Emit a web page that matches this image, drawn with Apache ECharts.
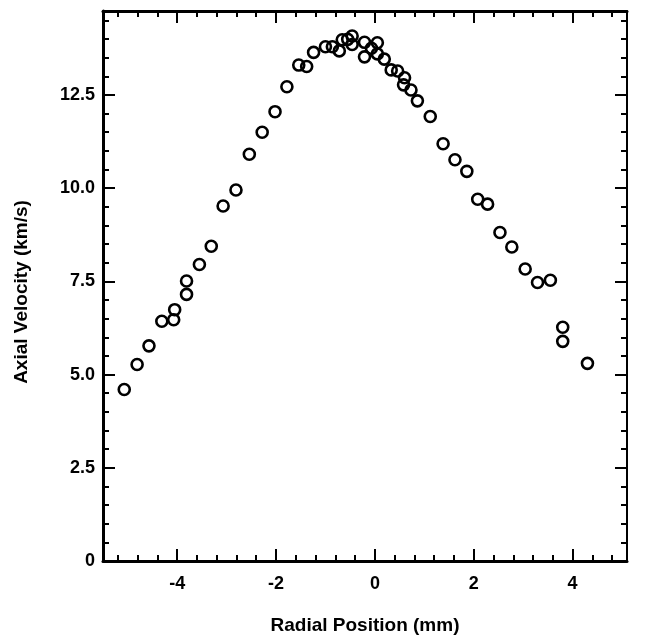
<!DOCTYPE html>
<html>
<head>
<meta charset="utf-8">
<script src="https://cdn.jsdelivr.net/npm/echarts@6/dist/echarts.min.js"></script>
<style>
html,body{margin:0;padding:0;background:#fff;}
#chart{width:650px;height:640px;}
</style>
</head>
<body>
<div id="chart"></div>
<script>
// Radial position (mm)
const radialPosition = [-5.07,-4.81,-4.57,-4.31,-4.07,-4.05,-3.81,-3.81,-3.55,-3.31,-3.07,-2.81,-2.54,-2.28,-2.02,-1.78,-1.54,-1.38,-1.24,-1.00,-0.86,-0.72,-0.66,-0.55,-0.46,-0.46,-0.21,-0.21,-0.07,0.05,0.05,0.19,0.33,0.46,0.60,0.58,0.73,0.86,1.12,1.38,1.62,1.86,2.08,2.28,2.53,2.77,3.04,3.29,3.55,3.80,3.80,4.30];
// Axial velocity (km/s)
const axialVelocity = [4.60,5.27,5.77,6.43,6.47,6.74,7.15,7.51,7.95,8.44,9.52,9.95,10.91,11.50,12.05,12.72,13.30,13.26,13.64,13.79,13.79,13.68,13.98,13.99,14.08,13.85,13.91,13.52,13.75,13.90,13.60,13.46,13.17,13.14,12.96,12.77,12.63,12.34,11.92,11.19,10.76,10.45,9.70,9.57,8.81,8.42,7.83,7.47,7.53,6.27,5.89,5.30];

const xMajorTicks = [-4,-2,0,2,4];
const xMinorTicks = [-5.2,-4.8,-4.4,-3.6,-3.2,-2.8,-2.4,-1.6,-1.2,-0.8,-0.4,0.4,0.8,1.2,1.6,2.4,2.8,3.2,3.6,4.4,4.8];
const yMajorTicks = [0,2.5,5,7.5,10,12.5];
const yMinorTicks = [0.5,1,1.5,2,3,3.5,4,4.5,5.5,6,6.5,7,8,8.5,9,9.5,10.5,11,11.5,12,13,13.5,14,14.5];

const X_MIN = -5.5, X_MAX = 5.1, Y_MIN = 0, Y_MAX = 14.75;
const FONT = '"Liberation Sans", Arial, Helvetica, sans-serif';

const points = radialPosition.map((x, i) => [x, axialVelocity[i]]);

function xAxisDef(position, ticks, len, showLine, showLabel, lineWidth) {
  return {
    type: 'value', position: position, min: X_MIN, max: X_MAX,
    splitLine: {show: false},
    axisLine: {show: showLine, onZero: false, lineStyle: {color: '#000', width: lineWidth}},
    axisTick: {show: true, inside: true, length: len, customValues: ticks, lineStyle: {color: '#000', width: 2}},
    axisLabel: {show: showLabel, customValues: ticks, margin: 14, color: '#000', fontFamily: FONT, fontWeight: 'bold', fontSize: 18,
      formatter: v => String(v)}
  };
}
function yAxisDef(position, ticks, len, showLine, showLabel, lineWidth) {
  return {
    type: 'value', position: position, min: Y_MIN, max: Y_MAX,
    splitLine: {show: false},
    axisLine: {show: showLine, onZero: false, lineStyle: {color: '#000', width: lineWidth}},
    axisTick: {show: true, inside: true, length: len, customValues: ticks, lineStyle: {color: '#000', width: 2}},
    axisLabel: {show: showLabel, customValues: ticks, margin: 8, color: '#000', fontFamily: FONT, fontWeight: 'bold', fontSize: 18,
      formatter: v => v === 0 ? '0' : v.toFixed(1)}
  };
}

const chart = echarts.init(document.getElementById('chart'), null, {renderer: 'canvas'});
chart.setOption({
  animation: false,
  backgroundColor: '#fff',
  grid: {left: 103, right: 23, top: 11, bottom: 79, containLabel: false},
  xAxis: [
    xAxisDef('bottom', xMajorTicks, 12, true, true, 3),
    xAxisDef('bottom', xMinorTicks, 6, false, false, 3),
    xAxisDef('top', xMajorTicks, 12, true, false, 3),
    xAxisDef('top', xMinorTicks, 6, false, false, 3)
  ],
  yAxis: [
    yAxisDef('left', yMajorTicks, 12, true, true, 3),
    yAxisDef('left', yMinorTicks, 6, false, false, 3),
    yAxisDef('right', yMajorTicks, 12, true, false, 2),
    yAxisDef('right', yMinorTicks, 6, false, false, 2)
  ],
  series: [{
    type: 'scatter',
    xAxisIndex: 0, yAxisIndex: 0,
    data: points,
    symbol: 'circle',
    symbolSize: 11,
    itemStyle: {color: 'rgba(0,0,0,0)', borderColor: '#000', borderWidth: 2.6, opacity: 1}
  }],
  graphic: [
    {type: 'text', x: 365, y: 616,
     style: {text: 'Radial Position (mm)', font: 'bold 19px ' + FONT, fill: '#000', align: 'center', verticalAlign: 'top'}},
    {type: 'text', x: 12, y: 292, rotation: Math.PI / 2,
     style: {text: 'Axial Velocity (km/s)', font: 'bold 19px ' + FONT, fill: '#000', align: 'center', verticalAlign: 'top'}}
  ]
});
</script>
</body>
</html>
